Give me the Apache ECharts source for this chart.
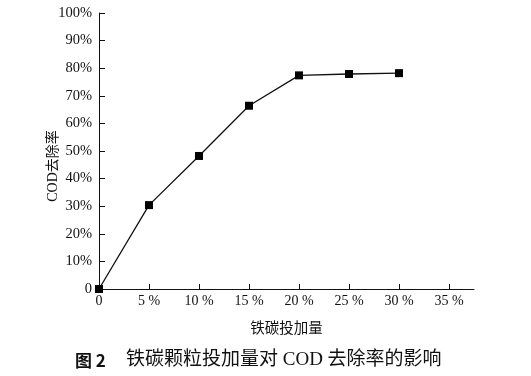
<!DOCTYPE html>
<html><head><meta charset="utf-8">
<script src="https://cdn.jsdelivr.net/npm/echarts@6/dist/echarts.min.js"></script>
<style>html,body{margin:0;padding:0;background:#fff}#c{width:531px;height:376px}</style>
</head><body><div id="c"></div>
<script>
const doses = [0, 5, 10, 15, 20, 25, 30];
const removal = [0, 30.4, 48.2, 66.4, 77.4, 77.9, 78.2];
const xTicks = [0, 5, 10, 15, 20, 25, 30, 35];
const yTicks = [0, 10, 20, 30, 40, 50, 60, 70, 80, 90, 100];
const xName = '铁碳投加量';
const yName = 'COD去除率';
const captionLabel = '图 2';
const captionText = '铁碳颗粒投加量对 COD 去除率的影响';

const chart = echarts.init(document.getElementById('c'));
const serif = '"Liberation Serif", "Noto Sans CJK SC", serif';
chart.setOption({
  animation: false,
  backgroundColor: '#fff',
  title: {
    text: '{a|' + captionLabel + '}{b|' + captionText + '}',
    left: 70, top: 346,
    textStyle: {
      rich: {
        a: {fontFamily: '"Noto Sans CJK SC", sans-serif', fontWeight: 'bold', fontSize: 17, color: '#111', width: 51},
        b: {fontFamily: '"Liberation Serif", "Noto Sans CJK SC", serif', fontWeight: 'normal', fontSize: 19, color: '#111'}
      }
    }
  },
  grid: {left: 99, right: 57, top: 13, bottom: 87},
  xAxis: {
    type: 'value', min: 0, max: 37.5,
    name: xName, nameLocation: 'middle', nameGap: 31, nameMoveOverlap: false,
    nameTextStyle: {fontFamily: '"Noto Sans CJK SC", sans-serif', fontSize: 14.5, color: '#111'},
    axisLine: {show: true, lineStyle: {color: '#111', width: 1}},
    axisTick: {show: true, inside: true, length: 5, customValues: xTicks, lineStyle: {color: '#111'}},
    axisLabel: {customValues: xTicks, margin: 5, fontFamily: serif, fontSize: 14, color: '#111',
      formatter: v => v === 0 ? '0' : v + ' %'},
    splitLine: {show: false}
  },
  yAxis: {
    type: 'value', min: 0, max: 100, interval: 10,
    name: yName, nameLocation: 'middle', nameGap: 39, nameRotate: 90, nameMoveOverlap: false,
    nameTextStyle: {fontFamily: '"Liberation Serif", "Noto Sans CJK SC", serif', fontSize: 14, color: '#111', padding: [0, 30, 0, 0]},
    axisLine: {show: true, lineStyle: {color: '#111', width: 1}},
    axisTick: {show: true, inside: true, length: 6, customValues: yTicks, lineStyle: {color: '#111'}},
    axisLabel: {customValues: yTicks, margin: 7, fontFamily: serif, fontSize: 14.5, color: '#111',
      formatter: v => v === 0 ? '0' : v + '%'},
    splitLine: {show: false}
  },
  series: [{
    type: 'line',
    data: doses.map((d, i) => [d, removal[i]]),
    symbol: 'rect', symbolSize: 8,
    lineStyle: {color: '#111', width: 1.3},
    itemStyle: {color: '#000'},
    clip: false
  }]
});
</script></body></html>
